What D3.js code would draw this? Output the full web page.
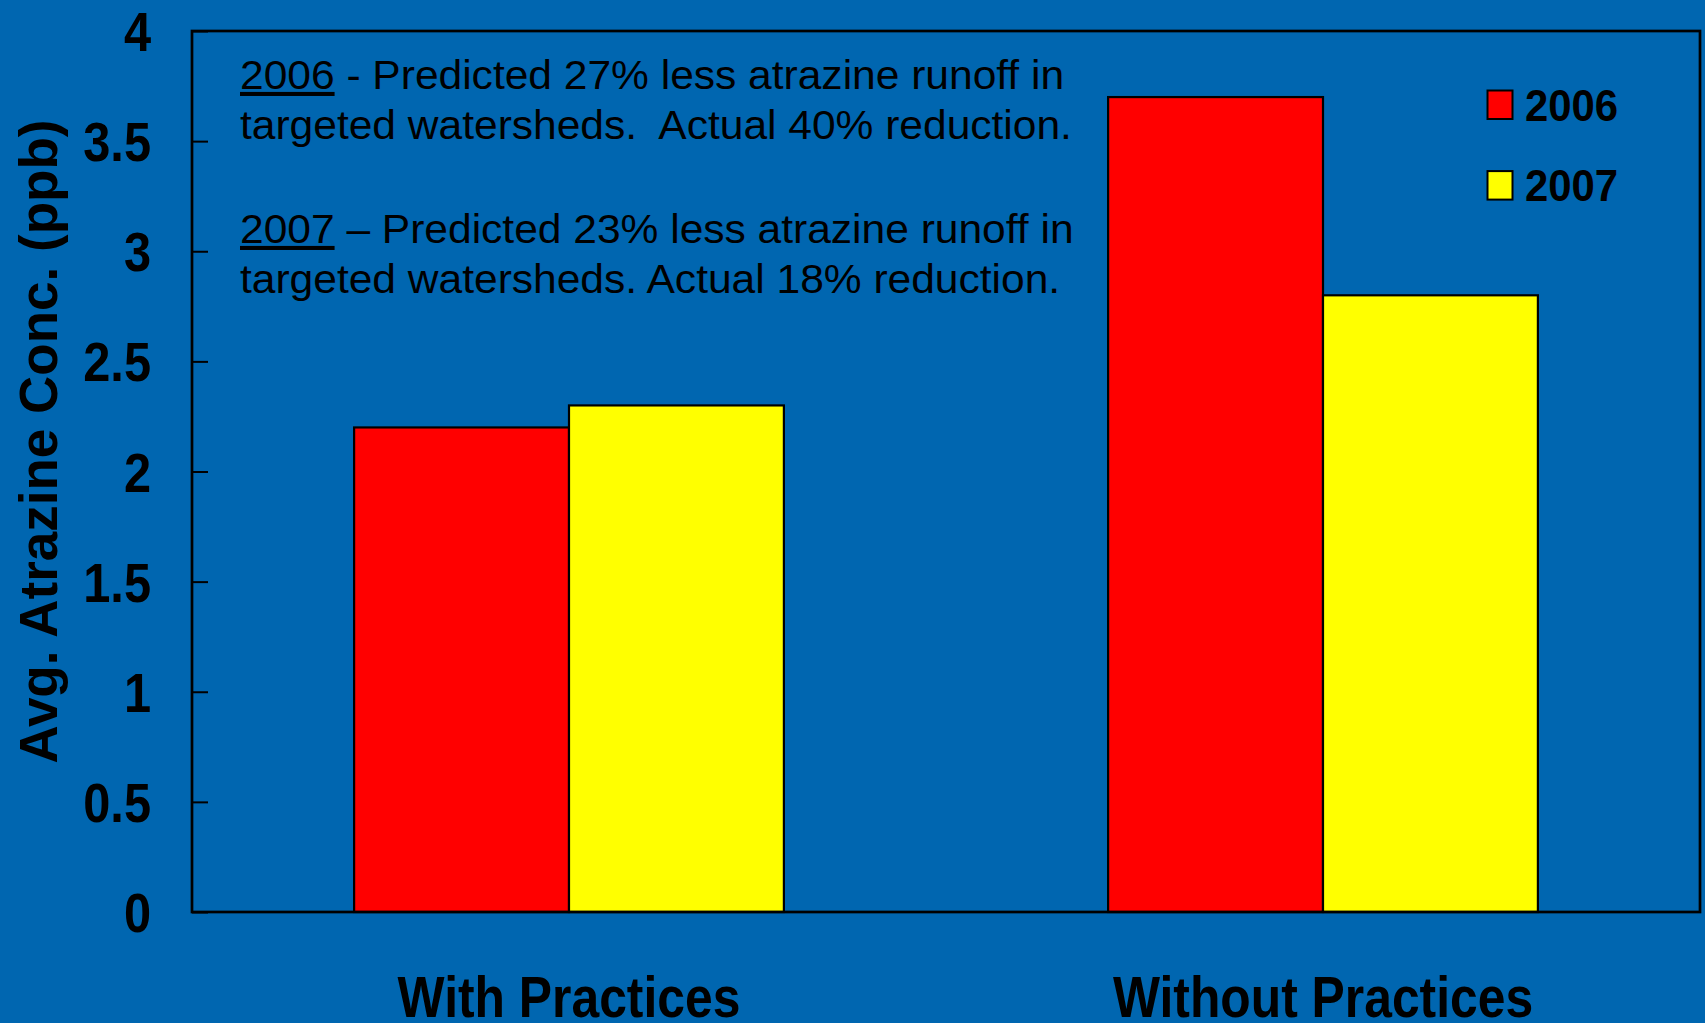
<!DOCTYPE html>
<html>
<head>
<meta charset="utf-8">
<script src="https://cdn.jsdelivr.net/npm/d3@7"></script>
<style>
  html, body { margin: 0; padding: 0; background: #0066B0; }
  svg { display: block; }
</style>
</head>
<body>
<svg id="chart" width="1705" height="1023"></svg>
<script>
// Average atrazine concentration by watershed group and year
const categories = ["With Practices", "Without Practices"];
const seriesNames = ["2006", "2007"];
const values2006 = [2.2, 3.7];
const values2007 = [2.3, 2.8];
const seriesColors = ["#FF0000", "#FFFF00"];
const tickValues = [0, 0.5, 1, 1.5, 2, 2.5, 3, 3.5, 4];
const tickLabels = ["0", "0.5", "1", "1.5", "2", "2.5", "3", "3.5", "4"];
const yTitle = "Avg. Atrazine Conc. (ppb)";
const notes = [
  { year: "2006", rest: " - Predicted 27% less atrazine runoff in", second: "targeted watersheds.  Actual 40% reduction." },
  { year: "2007", rest: " \u2013 Predicted 23% less atrazine runoff in", second: "targeted watersheds. Actual 18% reduction." }
];

const FONT = "'Liberation Sans', Arial, Helvetica, sans-serif";
const svg = d3.select("#chart");
const W = 1705, H = 1023;
const plot = { left: 192, top: 31, right: 1700, bottom: 912 };

svg.append("rect").attr("width", W).attr("height", H).attr("fill", "#0066B0");

const y = d3.scaleLinear().domain([0, 4]).range([plot.bottom, plot.top]);
const x0 = d3.scaleBand().domain(categories).range([plot.left, plot.right])
  .paddingInner(0.43).paddingOuter(0.215);
const x1 = d3.scaleBand().domain(seriesNames).range([0, x0.bandwidth()]).padding(0);

const rows = categories.map((c, i) => ({
  category: c,
  values: [
    { series: seriesNames[0], value: values2006[i], color: seriesColors[0] },
    { series: seriesNames[1], value: values2007[i], color: seriesColors[1] }
  ]
}));

// bars
svg.append("g").selectAll("g").data(rows).join("g")
  .attr("transform", d => `translate(${x0(d.category)},0)`)
  .selectAll("rect").data(d => d.values).join("rect")
  .attr("x", d => x1(d.series))
  .attr("y", d => y(d.value))
  .attr("width", x1.bandwidth())
  .attr("height", d => y(0) - y(d.value))
  .attr("fill", d => d.color)
  .attr("stroke", "#000")
  .attr("stroke-width", 2.2);

// plot frame
svg.append("rect")
  .attr("x", plot.left).attr("y", plot.top)
  .attr("width", plot.right - plot.left).attr("height", plot.bottom - plot.top)
  .attr("fill", "none").attr("stroke", "#000").attr("stroke-width", 2.7);

// y axis with inward ticks
const yAxis = d3.axisLeft(y).tickValues(tickValues)
  .tickFormat((d, i) => tickLabels[i]).tickSize(-16).tickPadding(0);
const gy = svg.append("g").attr("transform", `translate(${plot.left},0)`).call(yAxis);
gy.select(".domain").remove();
gy.selectAll(".tick line").attr("stroke", "#000").attr("stroke-width", 2);
gy.selectAll(".tick text")
  .attr("x", 0).attr("dy", "0.35em")
  .attr("transform", "translate(-41,0) scale(0.87,1)")
  .attr("fill", "#000")
  .style("font-family", FONT).style("font-weight", "bold").style("font-size", "56px");

// category labels
svg.append("g").selectAll("g").data(categories).join("g")
  .attr("transform", d => `translate(${x0(d) + x0.bandwidth() / 2},1017) scale(0.874,1)`)
  .append("text")
  .attr("text-anchor", "middle")
  .attr("fill", "#000")
  .style("font-family", FONT).style("font-weight", "bold").style("font-size", "57px")
  .text(d => d);

// y axis title
svg.append("text")
  .attr("transform", "translate(56.5,441.5) rotate(-90)")
  .attr("text-anchor", "middle")
  .attr("fill", "#000")
  .style("font-family", FONT).style("font-weight", "bold").style("font-size", "53px")
  .text(yTitle);

// legend
const legend = svg.append("g").selectAll("g").data(seriesNames).join("g")
  .attr("transform", (d, i) => `translate(1487.5,${90.5 + i * 80.6})`);
legend.append("rect")
  .attr("width", 25).attr("height", 28.5)
  .attr("fill", (d, i) => seriesColors[i])
  .attr("stroke", "#000").attr("stroke-width", 2);
legend.append("g")
  .attr("transform", "translate(37.5,30.2) scale(0.93,1)")
  .append("text")
  .attr("fill", "#000")
  .style("font-family", FONT).style("font-weight", "bold").style("font-size", "45px")
  .text(d => d);

// annotation notes
const noteG = svg.append("g").selectAll("g").data(notes).join("g")
  .attr("transform", (d, i) => `translate(240,${89 + i * 154}) scale(1.05,1)`);
const line1 = noteG.append("text")
  .attr("fill", "#000")
  .style("font-family", FONT).style("font-size", "40.5px").style("white-space", "pre");
line1.append("tspan").style("text-decoration", "underline").text(d => d.year);
line1.append("tspan").text(d => d.rest);
noteG.append("text")
  .attr("y", 50.5)
  .attr("fill", "#000")
  .style("font-family", FONT).style("font-size", "40.5px").style("white-space", "pre")
  .text(d => d.second);
</script>
</body>
</html>
